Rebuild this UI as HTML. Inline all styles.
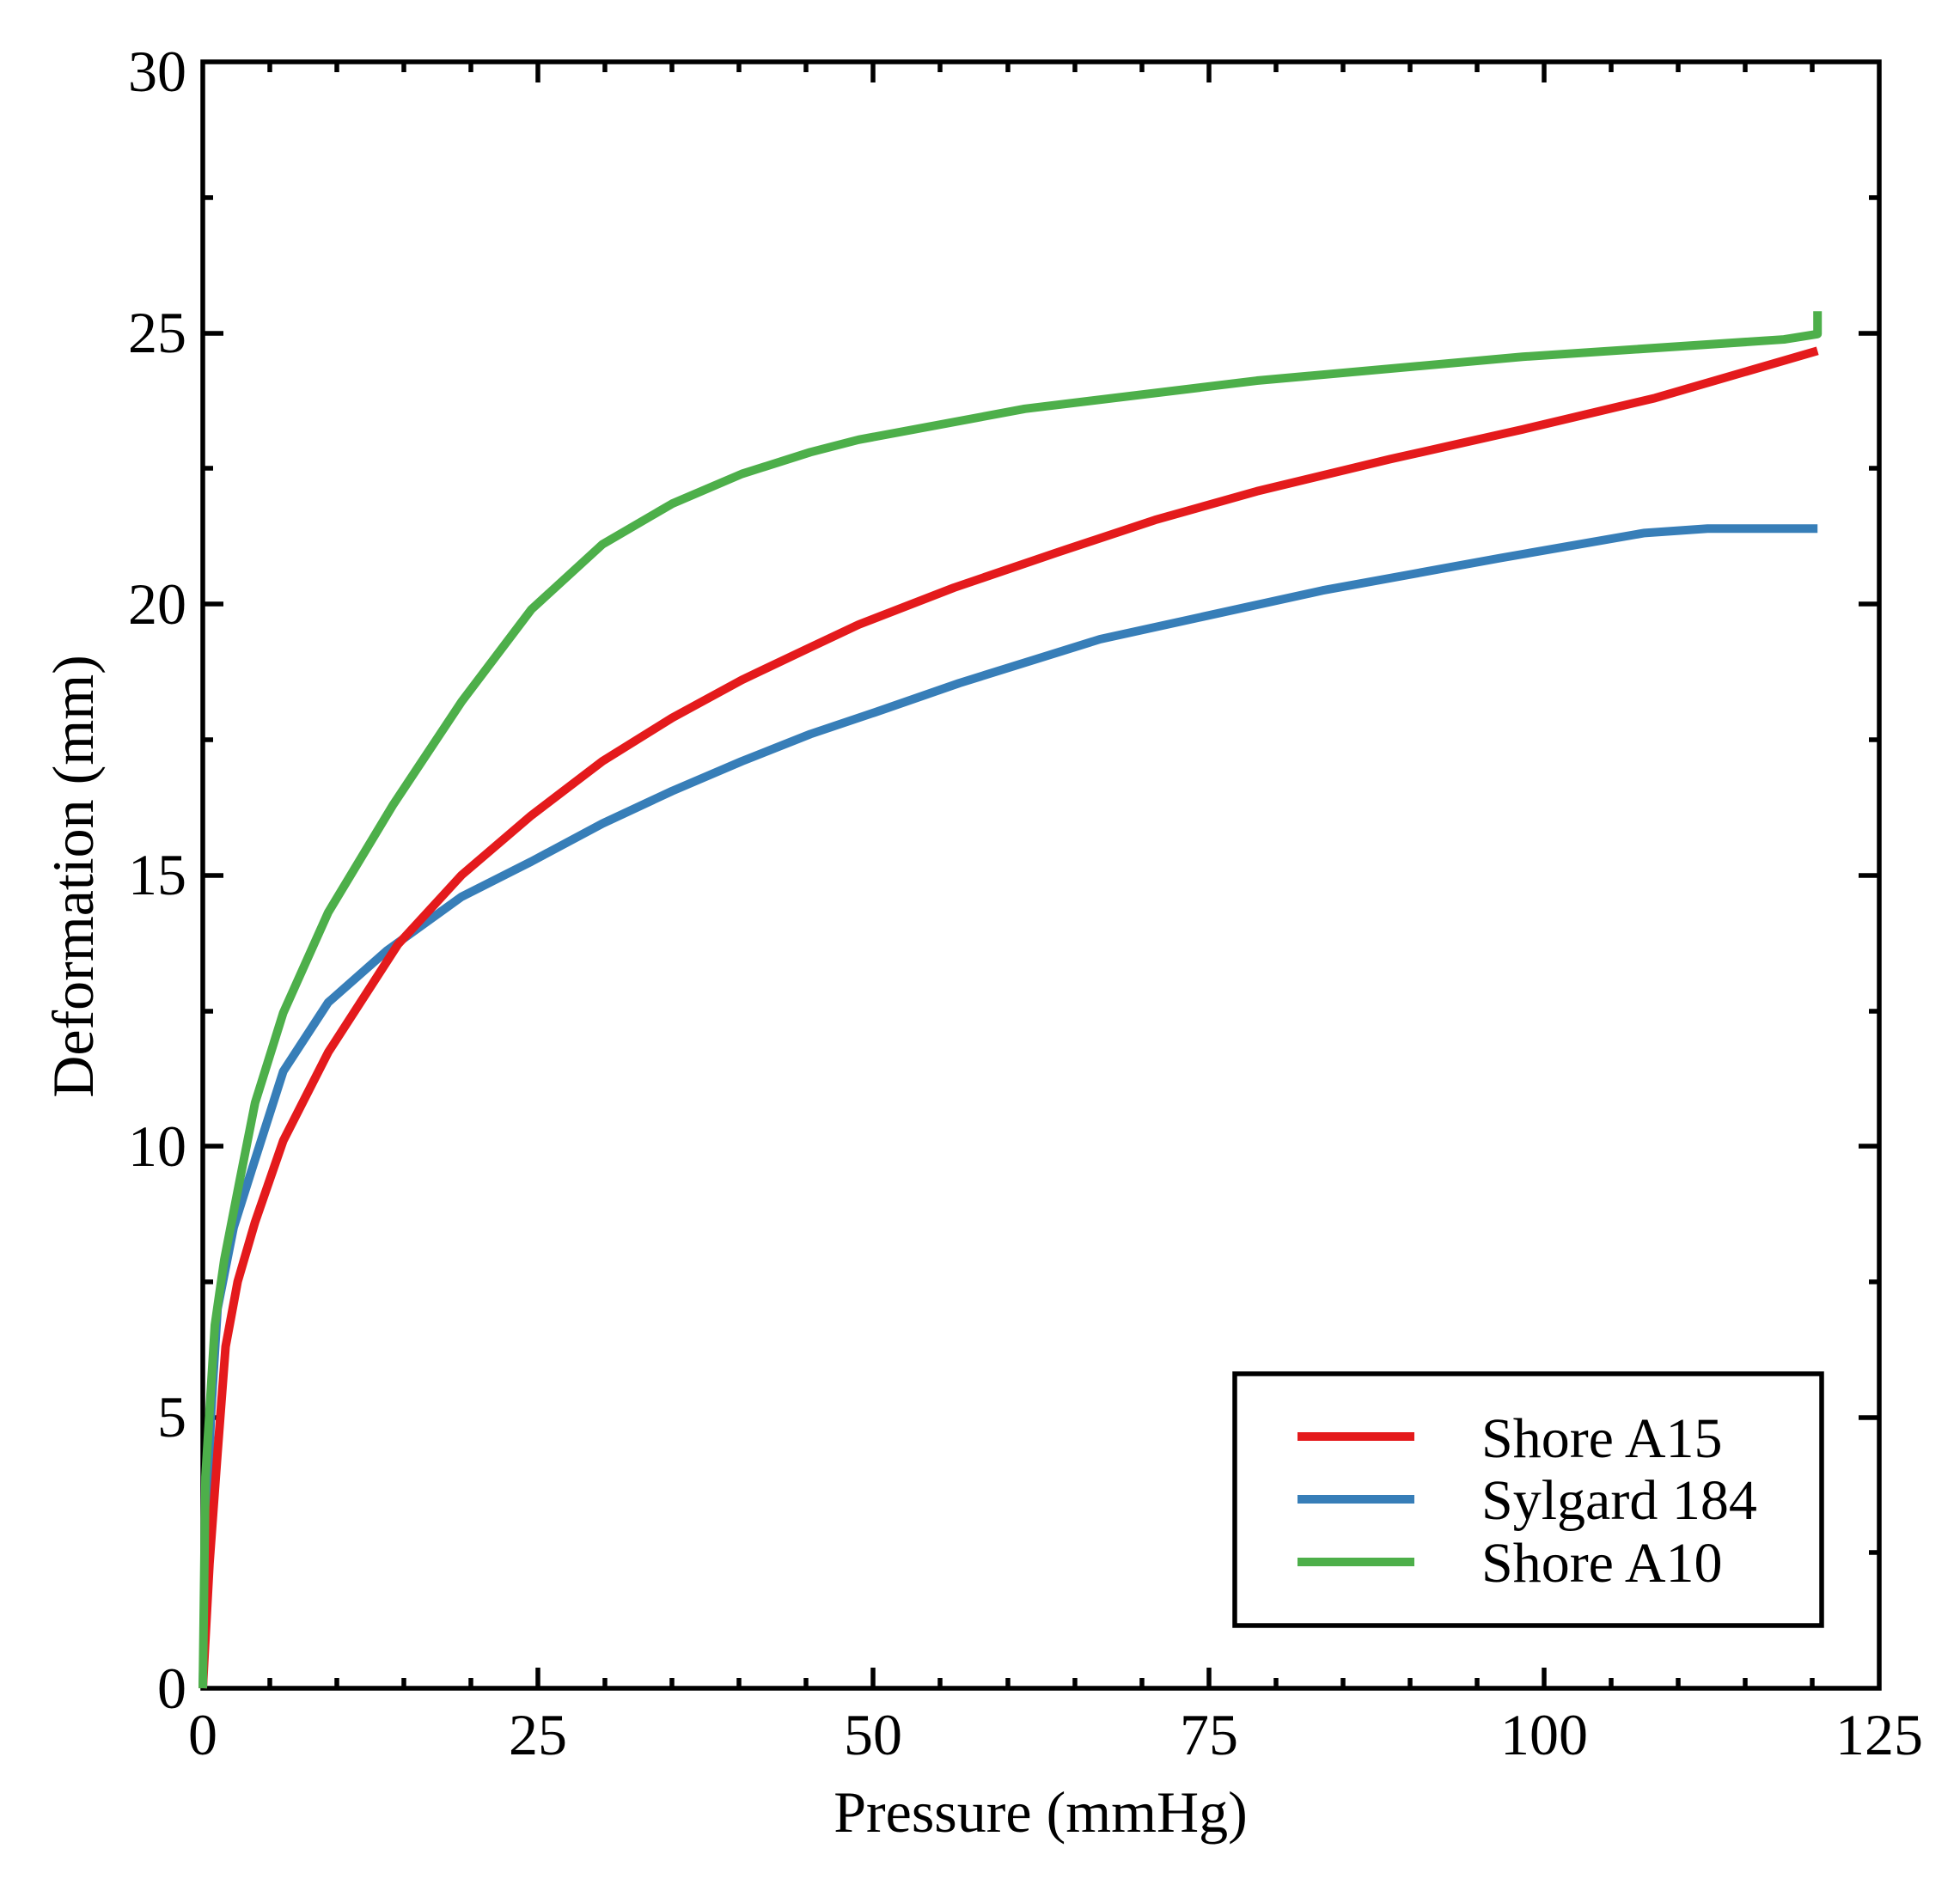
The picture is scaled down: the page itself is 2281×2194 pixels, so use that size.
<!DOCTYPE html>
<html><head><meta charset="utf-8"><style>html,body{margin:0;padding:0;background:#fff}svg{display:block}</style></head>
<body>
<svg xmlns="http://www.w3.org/2000/svg" width="2281" height="2194" viewBox="0 0 2281 2194">
<rect width="2281" height="2194" fill="#fff"/>
<g font-family="Liberation Serif, serif" font-size="68" fill="#000">
<g text-anchor="end">
<text x="217" y="1988">0</text>
<text x="217" y="1672">5</text>
<text x="217" y="1357">10</text>
<text x="217" y="1041">15</text>
<text x="217" y="726">20</text>
<text x="217" y="410">25</text>
<text x="217" y="106">30</text>
</g>
<g text-anchor="middle">
<text x="236" y="2042">0</text>
<text x="626" y="2042">25</text>
<text x="1016" y="2042">50</text>
<text x="1407" y="2042">75</text>
<text x="1797" y="2042">100</text>
<text x="2187" y="2042">125</text>
<text x="1211" y="2132">Pressure (mmHg)</text>
<text transform="translate(108,1020) rotate(-90)">Deformation (mm)</text>
</g>
</g>
<g stroke="#000" stroke-width="5.5">
<path d="M236 1965v-12M314 1965v-12M392 1965v-12M470 1965v-12M548 1965v-12M626 1965v-24M704 1965v-12M782 1965v-12M860 1965v-12M938 1965v-12M1016 1965v-24M1094 1965v-12M1173 1965v-12M1251 1965v-12M1329 1965v-12M1407 1965v-24M1485 1965v-12M1563 1965v-12M1641 1965v-12M1719 1965v-12M1797 1965v-24M1875 1965v-12M1953 1965v-12M2031 1965v-12M2109 1965v-12"/>
<path d="M314 72v12M392 72v12M470 72v12M548 72v12M626 72v24M704 72v12M782 72v12M860 72v12M938 72v12M1016 72v24M1094 72v12M1173 72v12M1251 72v12M1329 72v12M1407 72v24M1485 72v12M1563 72v12M1641 72v12M1719 72v12M1797 72v24M1875 72v12M1953 72v12M2031 72v12M2109 72v12"/>
<path d="M236 1807h12M236 1650h24M236 1492h12M236 1334h24M236 1177h12M236 1019h24M236 861h12M236 703h24M236 545h12M236 388h24M236 230h12"/>
<path d="M2187 1807h-12M2187 1650h-24M2187 1492h-12M2187 1334h-24M2187 1177h-12M2187 1019h-24M2187 861h-12M2187 703h-24M2187 545h-12M2187 388h-24M2187 230h-12"/>
<rect x="236" y="72" width="1951" height="1893" fill="none"/>
</g>
<g transform="translate(236,1965) scale(15.608,-63.1)" fill="none" stroke-width="10" stroke-linejoin="round" stroke-linecap="butt">
<path vector-effect="non-scaling-stroke" stroke="#377eb8" d="M0 0L0.3 3L0.6 5.0L1.1 7.0L2.3 8.5L3.7 9.6L6.0 11.38L9.35 12.65L13.7 13.6L19.3 14.6L24.5 15.25L29.8 15.95L35 16.55L40.2 17.1L45.3 17.6L50.1 18.0L56.4 18.54L66.9 19.35L83.5 20.25L96.8 20.85L107.5 21.31L112.2 21.39L120.4 21.39"/>
<path vector-effect="non-scaling-stroke" stroke="#e41a1c" d="M0 0L0.5 2.3L1.1 4.34L1.7 6.3L2.6 7.5L3.9 8.6L6.0 10.1L9.35 11.73L14.55 13.72L19.3 15.0L24.5 16.1L29.8 17.1L35 17.9L40.2 18.6L45.3 19.2L48.9 19.62L56 20.3L63.7 20.95L71 21.55L78.6 22.08L88.5 22.67L98.4 23.22L108.3 23.8L120.4 24.67"/>
<path vector-effect="non-scaling-stroke" stroke="#4daf4a" d="M0 0L0.2 3.9L0.9 6.7L1.6 7.9L2.7 9.3L3.9 10.8L6.0 12.46L9.35 14.31L14.2 16.3L19.3 18.2L24.5 19.9L29.8 21.1L35 21.85L40.2 22.4L45.3 22.8L48.9 23.03L61.3 23.6L78.6 24.12L98.4 24.56L117.9 24.88L120.4 24.98L120.4 25.4"/>
</g>
<rect x="1437" y="1599" width="683" height="293" fill="#fff" stroke="#000" stroke-width="5.5"/>
<g stroke-width="10">
<path d="M1510 1672H1646" stroke="#e41a1c"/>
<path d="M1510 1745H1646" stroke="#377eb8"/>
<path d="M1510 1818H1646" stroke="#4daf4a"/>
</g>
<g font-family="Liberation Serif, serif" font-size="66" fill="#000">
<text x="1724" y="1696">Shore A15</text>
<text x="1724" y="1768">Sylgard 184</text>
<text x="1724" y="1841">Shore A10</text>
</g>
</svg>
</body></html>
